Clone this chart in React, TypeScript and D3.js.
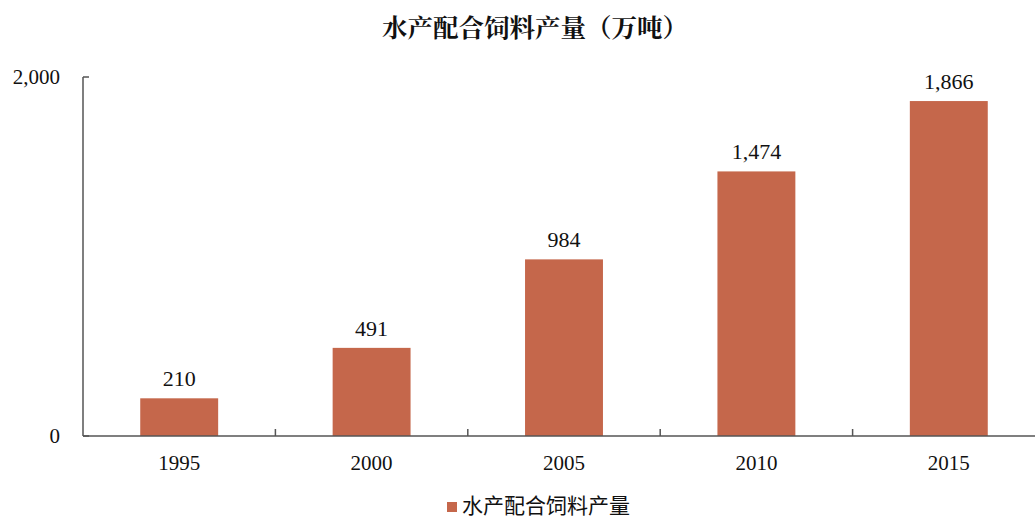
import React from 'react';
import * as d3 from 'd3';

const years = ['1995', '2000', '2005', '2010', '2015'];
const output = [210, 491, 984, 1474, 1866];
const yTicks = [0, 2000];
const seriesName = '水产配合饲料产量';
const chartTitle = '水产配合饲料产量（万吨）';

const width = 1035,
      height = 519;
const margin = { left: 83, right: -10, top: 77, bottom: 83 };
const barColor = '#C5674B';
const serif = "'Liberation Serif','Times New Roman',serif";

const App = () => {
  const x = d3.scaleBand<string>()
              .domain(years)
              .range([margin.left, width - margin.right])
              .paddingInner(0.595)
              .paddingOuter(0.2975);
  const y = d3.scaleLinear()
              .domain([0, 2000])
              .range([height - margin.bottom, margin.top]);
  const fmt = d3.format(',');
  const step = x.step();
  const bottom = y(0);

  return (
    <svg width={width} height={height} style={{ position: 'absolute', left: 0, top: 0 }}>
      <rect width={width} height={height} fill="#fff" />
      <text x={535} y={37} textAnchor="middle" fontSize={25.5} fontWeight="bold"
            fontFamily="'Noto Serif CJK SC','Noto Sans CJK SC',serif" fill="#111">
        {chartTitle}
      </text>

      {/* bars */}
      {years.map((yr, i) => (
        <g key={yr}>
          <rect x={x(yr)} y={y(output[i])} width={x.bandwidth()} height={bottom - y(output[i])} fill={barColor} />
          <text x={(x(yr) as number) + x.bandwidth() / 2} y={y(output[i]) - 12} textAnchor="middle"
                fontSize={22} fontFamily={serif} fill="#111">
            {fmt(output[i])}
          </text>
          <text x={(x(yr) as number) + x.bandwidth() / 2} y={470} textAnchor="middle"
                fontSize={21} fontFamily={serif} fill="#111">
            {yr}
          </text>
        </g>
      ))}

      {/* axes */}
      <g stroke="#555" strokeWidth={1.5} fill="none">
        <line x1={margin.left} x2={margin.left} y1={margin.top} y2={bottom} />
        <line x1={margin.left} x2={width} y1={bottom} y2={bottom} />
        {yTicks.map(t => (
          <line key={t} x1={margin.left} x2={margin.left + 6} y1={y(t)} y2={y(t)} />
        ))}
        {years.slice(1).map(yr => {
          const bx = (x(yr) as number) - (step - x.bandwidth()) / 2;
          return <line key={yr} x1={bx} x2={bx} y1={bottom} y2={bottom - 7} />;
        })}
      </g>
      {yTicks.map(t => (
        <text key={t} x={60} y={y(t) + 7} textAnchor="end" fontSize={21}
              fontFamily={serif} fill="#111">
          {fmt(t)}
        </text>
      ))}

      {/* legend */}
      <rect x={447} y={502} width={10} height={10} fill={barColor} />
      <text x={462} y={513} fontSize={21} fontFamily="'Noto Sans CJK SC',sans-serif" fill="#111">
        {seriesName}
      </text>
    </svg>
  );
};

export default App;
